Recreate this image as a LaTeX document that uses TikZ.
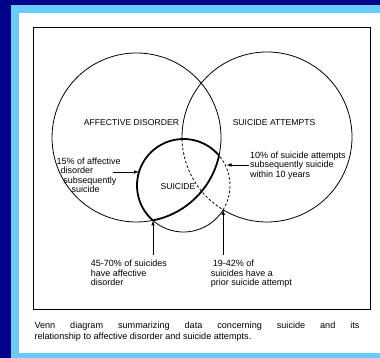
\documentclass[tikz,border=0pt]{standalone}
\usepackage{fontspec}
\setmainfont{Liberation Sans}
\usepackage{tikz}
\usetikzlibrary{arrows.meta}
\definecolor{frameNavy}{RGB}{0,0,139}
\definecolor{frameSky}{RGB}{102,204,255}
\newcommand{\vennArc}[5]{%%
  %% An arc of the circle round #1 with radius #2, from angle #3 to angle #4.
  \draw[#5] (#1) ++(#3:#2) arc[start angle=#3, end angle=#4, radius=#2];
}

\begin{document}
\begin{tikzpicture}[x=1pt,y=1pt,%%
  thinStyle/.style={line width=0.8pt},%%
  boldStyle/.style={line width=1.8pt},%%
  dashStyle/.style={line width=0.8pt,dash pattern=on 2.5pt off 2pt},%%
  arrowStyle/.style={line width=0.8pt,-{Latex[length=5pt,width=3.6pt]}},%%
  capsStyle/.style={inner sep=0pt,font=\fontsize{8.6}{10}\selectfont},%%
  noteStyle/.style={inner sep=0pt,anchor=north west,align=left,font=\fontsize{9}{9.5}\selectfont},%%
  captionStyle/.style={inner sep=0pt,anchor=north west,text width=325pt,align=justify,font=\fontsize{9.1}{11}\selectfont}%%
]
%%
%%
\useasboundingbox (0,0) rectangle (380,358);
%% The slide frame.
\fill[frameNavy] (0,0) rectangle (380,358);
\fill[frameSky] (11,0) rectangle (380,353);
\fill[white] (19,5) rectangle (380,345);
\draw[line width=1pt] (33,48) rectangle (370,330);
%%
\pgfmathsetmacro{\rA}{84.5}  %% Affective disorder.
\pgfmathsetmacro{\rT}{85}    %% Suicide attempts.
\pgfmathsetmacro{\rS}{46.5}  %% Suicide.
\coordinate (cAffective) at (136.5,220.5);
\coordinate (cAttempt) at (267,221);
\coordinate (cSuicide) at (183.5,172.5);
%%
%% The affective disorder circle, bold where it bounds the suicides.
\vennArc{cAffective}{\rA}{-12.3}{281.1}{thinStyle}
\vennArc{cAffective}{\rA}{-78.9}{-12.3}{boldStyle}
%% The suicide attempts circle, dashed inside the suicides.
\vennArc{cAttempt}{\rT}{238.9}{541.35}{thinStyle}
\vennArc{cAttempt}{\rT}{181.35}{238.9}{dashStyle}
%% The suicide circle.
\vennArc{cSuicide}{\rS}{228.7}{328.5}{thinStyle}
\vennArc{cSuicide}{\rS}{-31.5}{40.2}{dashStyle}
\vennArc{cSuicide}{\rS}{40.2}{228.7}{boldStyle}
%%
%% The labels of the sets.
\node[capsStyle] (adLabel) at (131.5,235.3) {AFFECTIVE DISORDER};
\node[capsStyle] (saLabel) at (274,235.7) {SUICIDE ATTEMPTS};
\node[capsStyle] (suLabel) at (178,171.5) {SUICIDE};
%%
%% The notes.
\node[noteStyle] (adNote) at (56.5,200.5) {15\% of affective\\\hspace*{4pt}disorder\\\hspace*{6.6pt}subsequently\\\hspace*{15pt}suicide};
\node[noteStyle] (saNote) at (250,206.3) {10\% of suicide attempts\\subsequently suicide\\within 10 years};
\node[noteStyle] (suAdNote) at (90.7,98) {45-70\% of suicides\\have affective\\disorder};
\node[noteStyle] (suSaNote) at (210.7,98) {\hspace*{2pt}19-42\% of\\suicides have a\\prior suicide attempt};
%%
%% Where the arrows start and end.
\coordinate (adFrom) at (113,186);
\coordinate (adTip) at (139,186);
\coordinate (saFrom) at (248.5,193);
\coordinate (saTip) at (226.5,193);
\coordinate (suAdFrom) at (153,103);
\coordinate (suAdTip) at (153,137.5);
\coordinate (suSaFrom) at (223.2,103);
\coordinate (suSaTip) at (223.2,148.2);
\draw[arrowStyle] (adFrom) -- (adTip);
\draw[arrowStyle] (saFrom) -- (saTip);
\draw[arrowStyle] (suAdFrom) -- (suAdTip);
\draw[arrowStyle] (suSaFrom) -- (suSaTip);
%%
%% The caption.
\node[captionStyle] (caption) at (34.3,36.5) {Venn diagram summarizing data concerning suicide and its\linebreak relationship to affective disorder and suicide attempts.};
\end{tikzpicture}
\end{document}
